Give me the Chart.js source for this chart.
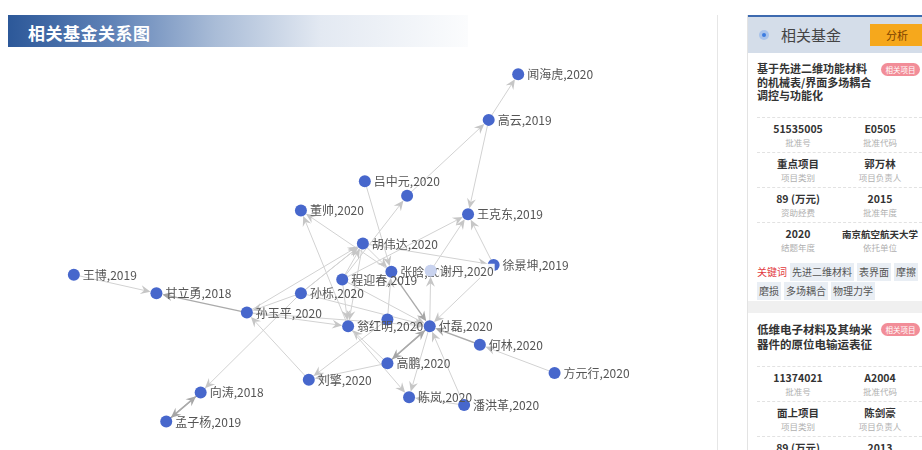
<!DOCTYPE html>
<html>
<head>
<meta charset="utf-8">
<script src="https://cdn.jsdelivr.net/npm/chart.js@4/dist/chart.umd.min.js"></script>
<style>
  html, body { margin: 0; padding: 0; background: #fff; }
  body { width: 922px; height: 450px; position: relative; overflow: hidden;
         font-family: "Noto Sans CJK SC", "Noto Sans", sans-serif; color: #333; }
  .banner { position: absolute; left: 8px; top: 15px; width: 460px; height: 32px;
            background: linear-gradient(90deg, #2c5899 0%, #5e81b6 22%, #a9bcd7 45%, #e3e9f2 68%, #fbfcfd 100%); }
  .banner span { position: absolute; left: 20px; top: 5px; font-size: 17px; font-weight: bold; color: #fff; letter-spacing: 0.5px; }
  #wrap { position: absolute; left: 0; top: 0; width: 710px; height: 450px; }
  .vsep { position: absolute; left: 717px; top: 15px; width: 1px; height: 435px; background: #e6e6e6; }
  .panel { position: absolute; left: 747px; top: 15px; width: 180px; height: 440px; background: #f0f0f0; border-left: 1px solid #e3e3e3; }
  .phead { height: 36px; background: #d4dde9; border-top: 2px solid #3d6aaf; position: relative; }
  .dot { position: absolute; left: 11px; top: 13px; width: 10px; height: 10px; border-radius: 50%; background: #a9c3ea; }
  .dot i { position: absolute; left: 3px; top: 3px; width: 4px; height: 4px; border-radius: 50%; background: #3b7be0; }
  .phead .t { position: absolute; left: 33px; top: 7px; font-size: 15px; color: #444; }
  .btn { position: absolute; left: 122px; top: 7px; width: 54px; height: 22px; background: #f6a81c; color: #7a4300; font-size: 11px; line-height: 22px; text-align: center; }
  .card { background: #fff; position: relative; padding: 9px 0 0 9px; }
  .title { font-size: 11px; font-weight: bold; line-height: 13.5px; width: 116px; color: #333; }
  .tag { position: absolute; left: 133px; top: 10px; width: 39px; height: 13px; border-radius: 7px; background: #f28d98; color: #fff; font-size: 7.5px; line-height: 13px; text-align: center; }
  .row { display: flex; border-top: 1px dashed #e2e2e2; height: 34px; margin-right: 6px; }
  .row div { width: 82px; text-align: center; padding-top: 4px; white-space: nowrap; }
  .row b { display: block; font-size: 10.5px; line-height: 14px; color: #333; }
  .row s { display: block; text-decoration: none; font-size: 8.5px; line-height: 12px; color: #b0b0b0; }
  .kw { font-size: 10px; line-height: 16px; padding-top: 6px; color: #555; white-space: nowrap; }
  .kw em { font-style: normal; color: #e23a3e; margin-right: 3px; }
  .kw span { background: #e9eef4; padding: 1px 2px; margin-right: 3px; display: inline-block; margin-bottom: 1px; }
</style>
</head>
<body>
<div class="banner"><span>相关基金关系图</span></div>
<div id="wrap"><canvas id="graph"></canvas></div>
<div class="vsep"></div>

<div class="panel">
  <div class="phead"><div class="dot"><i></i></div><div class="t">相关基金</div><div class="btn">分析</div></div>
  <div class="card" style="height:239px">
    <div class="title">基于先进二维功能材料的机械表/界面多场耦合调控与功能化</div>
    <div class="tag">相关项目</div>
    <div style="height:14px"></div>
    <div class="row"><div><b>51535005</b><s>批准号</s></div><div><b>E0505</b><s>批准代码</s></div></div>
    <div class="row"><div><b>重点项目</b><s>项目类别</s></div><div><b>郭万林</b><s>项目负责人</s></div></div>
    <div class="row"><div><b>89 (万元)</b><s>资助经费</s></div><div><b>2015</b><s>批准年度</s></div></div>
    <div class="row"><div><b>2020</b><s>结题年度</s></div><div><b style="font-size:9.5px">南京航空航天大学</b><s>依托单位</s></div></div>
    <div class="kw"><em>关键词</em><span>先进二维材料</span><span>表界面</span><span>摩擦</span><br><span>磨损</span><span>多场耦合</span><span>物理力学</span></div>
  </div>
  <div style="height:12px"></div>
  <div class="card" style="height:150px">
    <div class="title" style="width:124px;font-size:11.5px;line-height:15px">低维电子材料及其纳米器件的原位电输运表征</div>
    <div class="tag">相关项目</div>
    <div style="height:14px"></div>
    <div class="row"><div><b>11374021</b><s>批准号</s></div><div><b>A2004</b><s>批准代码</s></div></div>
    <div class="row"><div><b>面上项目</b><s>项目类别</s></div><div><b>陈剑豪</b><s>项目负责人</s></div></div>
    <div class="row"><div><b>89 (万元)</b><s>资助经费</s></div><div><b>2013</b><s>批准年度</s></div></div>
  </div>
</div>

<script>
/* ── Graph data ── */
const nodeNames = [
  '闻海虎,2020', '高云,2019', '吕中元,2020', '', '董帅,2020', '王克东,2019',
  '胡伟达,2020', '张晗,2020', '谢丹,2020', '徐景坤,2019', '程迎春,2019', '孙栎,2020',
  '王博,2019', '甘立勇,2018', '孙玉平,2020', '', '翁红明,2020', '付磊,2020',
  '何林,2020', '高鹏,2020', '刘擎,2020', '方元行,2020', '向涛,2018', '陈岚,2020',
  '潘洪革,2020', '孟子杨,2019',
];
const nodeX = [521, 491, 365, 408, 300, 470, 363, 392, 432, 496, 342, 300,
               69, 153, 245, 388, 348, 431, 482, 388, 308, 558, 198, 410, 466, 163];
const nodeY = [70, 117, 180, 195, 210, 214, 244, 273, 272, 266, 281, 295,
               276, 295, 315, 322, 329, 329, 348, 367, 384, 377, 397, 402, 410, 427];

// [source, target]
const edgeFrom = [1, 1, 3, 10, 2, 7, 16, 11, 14, 10, 6, 6, 7, 17, 10, 8, 9, 9, 18, 21,
                  12, 14, 11, 11, 25, 22, 20, 14, 14, 11, 10, 19, 17, 19, 19, 16, 17, 24, 24, 15,
                  15, 6, 10, 11];
const edgeTo   = [0, 5, 1, 3, 7, 4, 4, 6, 6, 6, 7, 9, 17, 8, 5, 5, 5, 17, 17, 18,
                  13, 13, 14, 22, 22, 25, 14, 16, 17, 17, 17, 17, 19, 16, 20, 23, 23, 17, 23, 20,
                  7, 16, 16, 6];
const strongEdges = [12, 18, 24, 25, 31, 32, 21];

const NODE_COLOR = '#4767cc';
const FADED_COLOR = '#c9d3ef';
const EDGE_COLOR = '#d2d2d2';
const EDGE_STRONG = '#ababab';

/* ── Edges plugin (drawn under the points) ── */
const edgePlugin = {
  id: 'edges',
  beforeDatasetsDraw(chart) {
    const { ctx, scales: { x, y } } = chart;
    ctx.save();
    edgeFrom.forEach((s, i) => {
      const t = edgeTo[i];
      const x1 = x.getPixelForValue(nodeX[s]), y1 = y.getPixelForValue(nodeY[s]);
      const x2 = x.getPixelForValue(nodeX[t]), y2 = y.getPixelForValue(nodeY[t]);
      const ang = Math.atan2(y2 - y1, x2 - x1);
      const r = 6;
      const tx = x2 - Math.cos(ang) * r, ty = y2 - Math.sin(ang) * r;
      const strong = strongEdges.includes(i);
      ctx.strokeStyle = strong ? EDGE_STRONG : EDGE_COLOR;
      ctx.lineWidth = strong ? 1.4 : 1;
      ctx.beginPath();
      ctx.moveTo(x1, y1);
      ctx.lineTo(tx - Math.cos(ang) * 6, ty - Math.sin(ang) * 6);
      ctx.stroke();
      // arrow head
      const len = 10, half = 4.5;
      const bx = tx - Math.cos(ang) * len, by = ty - Math.sin(ang) * len;
      ctx.fillStyle = strong ? '#a5a5a5' : '#c6c6c6';
      ctx.beginPath();
      ctx.moveTo(tx, ty);
      ctx.lineTo(bx + Math.sin(ang) * half, by - Math.cos(ang) * half);
      ctx.lineTo(tx - Math.cos(ang) * 6.5, ty - Math.sin(ang) * 6.5);
      ctx.lineTo(bx - Math.sin(ang) * half, by + Math.cos(ang) * half);
      ctx.closePath();
      ctx.fill();
    });
    ctx.restore();
  },
};

/* ── Labels plugin ── */
const labelPlugin = {
  id: 'nodeLabels',
  afterDatasetsDraw(chart) {
    const { ctx, scales: { x, y } } = chart;
    ctx.save();
    ctx.font = '12px "Noto Sans CJK SC", sans-serif';
    ctx.textBaseline = 'middle';
    const boxes = [];
    nodeNames.forEach((name, i) => {
      if (!name) return;
      const px = x.getPixelForValue(nodeX[i]) + 9;
      const py = y.getPixelForValue(nodeY[i]);
      const w = ctx.measureText(name).width;
      // a label lying on top of an earlier one hides what is under it
      const hit = boxes.some(b => px < b.x + b.w && px + w > b.x && Math.abs(py - b.y) < 5);
      if (hit) {
        ctx.fillStyle = 'rgba(255,255,255,0.92)';
        ctx.fillRect(px - 1, py - 7, w + 2, 14);
        ctx.fillStyle = FADED_COLOR;
        ctx.beginPath();
        ctx.arc(px - 9, py, 6, 0, Math.PI * 2);
        ctx.fill();
      }
      ctx.fillStyle = '#555';
      ctx.fillText(name, px, py + 0.5);
      boxes.push({ x: px, y: py, w });
    });
    ctx.restore();
  },
};

new Chart(document.getElementById('graph'), {
  type: 'scatter',
  data: {
    datasets: [{
      data: nodeNames.map((n, i) => ({ x: nodeX[i], y: nodeY[i] })),
      pointRadius: 6,
      pointHoverRadius: 6,
      borderWidth: 0,
      backgroundColor: c => (nodeNames[c.dataIndex] === '谢丹,2020' ? FADED_COLOR : NODE_COLOR),
    }],
  },
  options: {
    responsive: true,
    maintainAspectRatio: false,
    animation: false,
    layout: { padding: 0 },
    plugins: { legend: { display: false }, tooltip: { enabled: false } },
    scales: {
      x: { type: 'linear', min: 0, max: 710, display: false },
      y: { type: 'linear', min: 0, max: 450, reverse: true, display: false },
    },
  },
  plugins: [edgePlugin, labelPlugin],
});
</script>
</body>
</html>
